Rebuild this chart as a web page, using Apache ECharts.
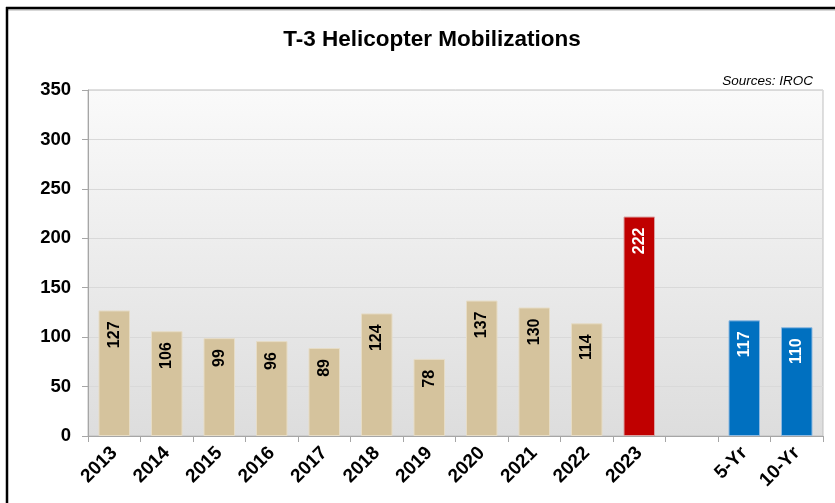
<!DOCTYPE html>
<html>
<head>
<meta charset="utf-8">
<title>T-3 Helicopter Mobilizations</title>
<script src="https://cdn.jsdelivr.net/npm/echarts@6/dist/echarts.min.js"></script>
<style>
  html, body { margin: 0; padding: 0; background: #ffffff; }
  #chart { width: 835px; height: 503px; }
</style>
</head>
<body>
<div id="chart"></div>
<script>
// Categories along the x axis (one empty slot separates the yearly bars from the averages)
const categories = ['2013', '2014', '2015', '2016', '2017', '2018', '2019', '2020', '2021', '2022', '2023', '', '5-Yr', '10-Yr'];

// Mobilizations per year, then the 5- and 10-year averages
const yearlyValues = [127, 106, 99, 96, 89, 124, 78, 137, 130, 114];
const currentYearValue = 222;
const averageValues = [117, 110];

// Y axis scale
const yMin = 0;
const yMax = 350;
const yStep = 50;

const TAN = '#D5C39D';
const RED = '#C00000';
const BLUE = '#0070C0';

function barItem(value, color, border, labelColor) {
  return {
    value: value,
    itemStyle: { color: color, borderColor: border, borderWidth: 1 },
    label: { color: labelColor }
  };
}

const seriesData = [];
yearlyValues.forEach(v => seriesData.push(barItem(v, TAN, '#E6DCC6', '#000000')));
seriesData.push(barItem(currentYearValue, RED, '#D9A0A0', '#ffffff'));
seriesData.push('-');
averageValues.forEach(v => seriesData.push(barItem(v, BLUE, '#8DB8E0', '#ffffff')));

const chart = echarts.init(document.getElementById('chart'), null, { renderer: 'canvas' });

chart.setOption({
  animation: false,
  backgroundColor: '#ffffff',
  title: [{
    text: 'T-3 Helicopter Mobilizations',
    left: 427,
    top: 23,
    textAlign: 'center',
    textStyle: {
      fontFamily: '"Liberation Sans", Arial, sans-serif',
      fontWeight: 'bold',
      fontSize: 22.5,
      color: '#000000'
    }
  }, {
    text: 'Sources: IROC',
    right: 17,
    top: 69,
    textStyle: {
      fontFamily: '"Liberation Sans", Arial, sans-serif',
      fontStyle: 'italic',
      fontWeight: 'normal',
      fontSize: 13.5,
      color: '#000000'
    }
  }],
  graphic: [
    // frame around the chart
    { type: 'line', shape: { x1: 6, y1: 10, x2: 835, y2: 10 }, style: { stroke: '#B0B0B0', lineWidth: 1 } },
    { type: 'line', shape: { x1: 6, y1: 8, x2: 835, y2: 8 }, style: { stroke: '#000000', lineWidth: 2.5 } },
    { type: 'line', shape: { x1: 7, y1: 7, x2: 7, y2: 503 }, style: { stroke: '#000000', lineWidth: 2.5 } }
  ],
  grid: {
    left: 88,
    top: 90,
    right: 12,
    bottom: 67,
    show: true,
    borderColor: '#BFBFBF',
    borderWidth: 1,
    backgroundColor: {
      type: 'linear', x: 0, y: 0, x2: 0, y2: 1,
      colorStops: [
        { offset: 0, color: '#FAFAFA' },
        { offset: 1, color: '#DDDDDD' }
      ]
    }
  },
  xAxis: {
    type: 'category',
    data: categories,
    boundaryGap: true,
    axisLine: { show: true, lineStyle: { color: '#A6A6A6', width: 1 } },
    axisTick: { show: true, length: 6, inside: false, lineStyle: { color: '#A6A6A6' } },
    axisLabel: {
      interval: 0,
      rotate: 45,
      margin: 14,
      fontFamily: '"Liberation Sans", Arial, sans-serif',
      fontWeight: 'bold',
      fontSize: 19,
      color: '#000000'
    }
  },
  yAxis: {
    type: 'value',
    min: yMin,
    max: yMax,
    interval: yStep,
    axisLine: { show: true, lineStyle: { color: '#A6A6A6', width: 1 } },
    axisTick: { show: true, length: 6, lineStyle: { color: '#A6A6A6' } },
    splitLine: { show: true, lineStyle: { color: '#D9D9D9', width: 1 } },
    axisLabel: {
      margin: 17,
      fontFamily: '"Liberation Sans", Arial, sans-serif',
      fontWeight: 'bold',
      fontSize: 18.5,
      color: '#000000'
    }
  },
  series: [{
    type: 'bar',
    data: seriesData,
    barCategoryGap: '40%',
    label: {
      show: true,
      position: 'insideTop',
      rotate: 90,
      align: 'right',
      verticalAlign: 'middle',
      distance: 11,
      fontFamily: '"Liberation Sans", Arial, sans-serif',
      fontWeight: 'bold',
      fontSize: 16
    }
  }]
});
</script>
</body>
</html>
